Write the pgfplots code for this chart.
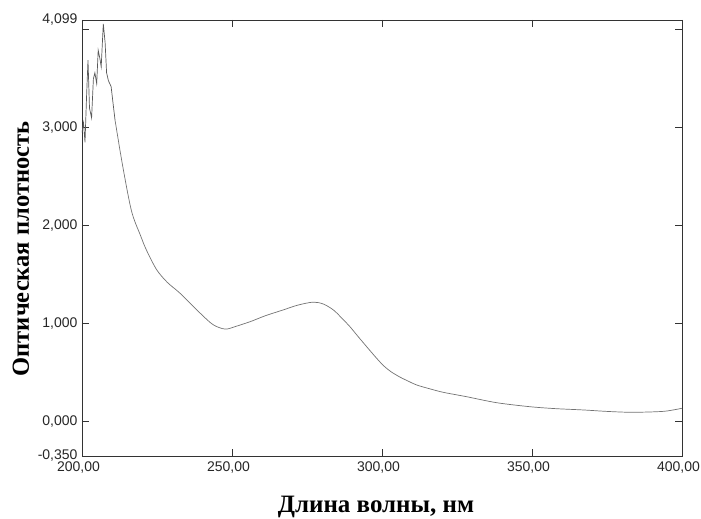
\documentclass[border=0pt]{standalone}
\usepackage{fontspec}
\setmainfont{Liberation Serif}
\newfontfamily\tickfont{Liberation Sans}
\usepackage{pgfplots}
\pgfplotsset{compat=1.18}
\begin{document}
\begin{tikzpicture}
\begin{axis}[
  scale only axis, width=600pt, height=436pt,
  xmin=200, xmax=400, ymin=-0.35, ymax=4.099,
  axis line style={black!80, line width=0.9pt},
  tick style={black!80, line width=0.8pt},
  tick align=inside, major tick length=7pt,
  xtick={200,250,300,350,400},
  xticklabels={{200,00},{250,00},{300,00},{350,00},{400,00}},
  ytick={-0.35,0,1,2,3,4,4.099},
  yticklabels={{-0,350},{0,000},{1,000},{2,000},{3,000},{},{4,099}},
  ticklabel style={font=\tickfont\fontsize{14}{16}\selectfont, text=black!85},
  /pgf/number format/assume math mode=true,
  xticklabel style={yshift=-2pt, xshift=-3.5pt},
  yticklabel style={xshift=-1pt},
  xlabel={\bfseries Длина волны, нм},
  ylabel={\bfseries Оптическая плотность},
  every axis x label/.append style={at={(axis description cs:0.49,-0.117)}, anchor=center, font=\fontsize{25}{28}\selectfont},
  every axis y label/.append style={at={(axis description cs:-0.1017,0.475)}, anchor=center, font=\fontsize{24.5}{28}\selectfont},
]
\addplot[black!65, line width=0.7pt] coordinates {
(200.0,2.95) (200.5,3.05) (201.0,2.85) (201.5,3.30) (202.0,3.69) (202.5,3.20)
(203.2,3.10) (203.8,3.50) (204.3,3.56) (204.9,3.45) (205.4,3.79) (206.0,3.70)
(206.4,3.62) (207.1,4.06) (207.7,3.87) (208.2,3.56) (208.8,3.48) (209.7,3.42)
(211.0,3.08)
};
\addplot[black!55, line width=0.7pt, smooth] coordinates {
(211.0,3.08) (213.5,2.62) (216.5,2.15) (219.5,1.90) (221.5,1.75) (224.9,1.55)
(228.5,1.42) (232.7,1.31) (239.3,1.11) (243.7,0.99) (247.7,0.945)
(251.0,0.97) (256.0,1.02) (261.0,1.08) (267.0,1.14) (272.0,1.19) (277.1,1.22)
(280.5,1.20) (283.8,1.14) (286.5,1.06) (289.3,0.97) (292.0,0.87) (294.9,0.765)
(297.7,0.665) (300.4,0.575) (303.0,0.51) (306.0,0.455) (309.0,0.41) (311.6,0.374) (316.0,0.335)
(320.4,0.30) (328.2,0.255) (338.2,0.194) (349.3,0.153) (358.0,0.133) (367.0,0.12)
(375.0,0.105) (382.7,0.096) (390.0,0.100) (394.9,0.109) (400.0,0.137)
};
\coordinate (sw) at (rel axis cs:0,0);
\coordinate (ne) at (rel axis cs:1,1);
\end{axis}
\pgfresetboundingbox
\path ([shift={(-82pt,-63pt)}]sw) rectangle ([shift={(19pt,20pt)}]ne);
\end{tikzpicture}
\end{document}
